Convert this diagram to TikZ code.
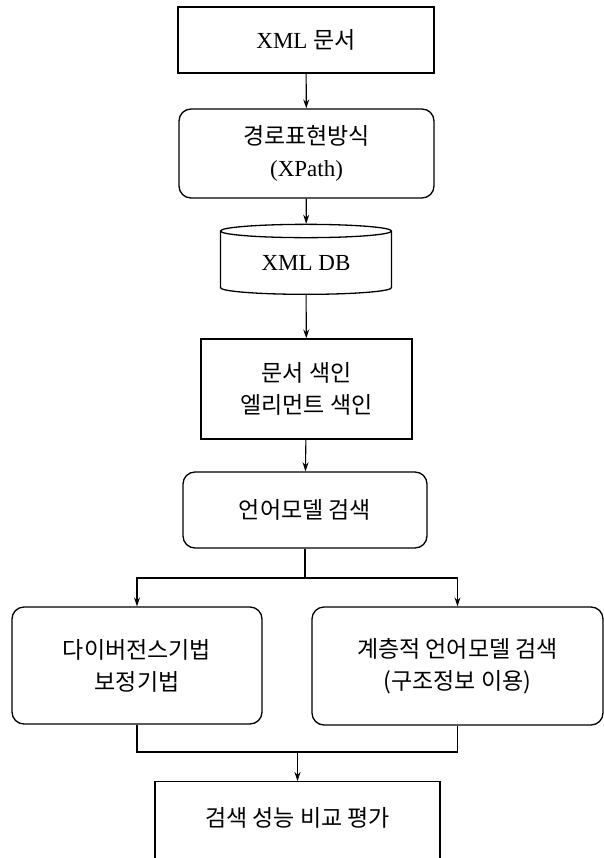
\documentclass[tikz,border=0pt]{standalone}
\usepackage{fontspec}
\setmainfont{Liberation Serif}
\newfontfamily\kr{Noto Sans CJK KR}
\usetikzlibrary{shapes.geometric,arrows.meta}
\tikzset{plain box/.style={draw,line width=1.3pt,rectangle,align=center,inner sep=0pt},
	round box/.style={plain box,rounded corners=12pt},
	db/.style={draw,line width=1.3pt,cylinder,shape border rotate=90,aspect=0.15,align=center,inner sep=0pt},
	flow/.style={line width=1.1pt,-{Stealth[length=9pt,width=6pt]}},
	wire/.style={line width=1.1pt}}

\begin{document}
\begin{tikzpicture}[x=1pt,y=-1pt,font=\fontsize{23}{32}\selectfont]
			\useasboundingbox (0,0) rectangle (604,858);
			% boxes
			\node[plain box,minimum width=256pt,minimum height=66pt] (doc) at (306,40) {XML {\kr 문서}};
			\node[round box,minimum width=255pt,minimum height=89pt] (xpath) at (306.5,153.5) {{\kr 경로표현방식}\\(XPath)};
			\node[db,minimum width=171pt,minimum height=70pt] (xmldb) at (306,263) {XML DB};
			\node[plain box,minimum width=211pt,minimum height=100pt] (index) at (306.5,389) {{\kr 문서 색인}\\{\kr 엘리먼트 색인}};
			\node[round box,minimum width=244pt,minimum height=76pt] (lm) at (305,510) {\kr 언어모델 검색};
			\node[round box,minimum width=250pt,minimum height=117pt] (div) at (137,665.5) {{\kr 다이버전스기법}\\{\kr 보정기법}};
			\node[round box,minimum width=291pt,minimum height=118pt] (hier) at (457.5,666) {{\kr 계층적 언어모델 검색}\\{\kr (구조정보 이용)}};
			\node[plain box,minimum width=285pt,anchor=north,inner ysep=27pt,text height=18pt,text depth=60pt] (eval) at (297.5,781) {\kr 검색 성능 비교 평가};
			% connectors
			\coordinate (split) at (305,578);
			\coordinate (join) at (297.5,752);
			\draw[flow] (doc) -- (xpath);
			\draw[flow] (xpath) -- (xmldb);
			\draw[flow] (xmldb) -- (index);
			\draw[flow] (index) -- (lm);
			\draw[wire] (lm) -- (split);
			\draw[flow] (split) -| (div.north);
			\draw[flow] (split) -| (hier.north);
			\draw[wire] (div.south) |- (join) -| (hier.south);
			\draw[flow] (join) -- (eval);
		\end{tikzpicture}
\end{document}
